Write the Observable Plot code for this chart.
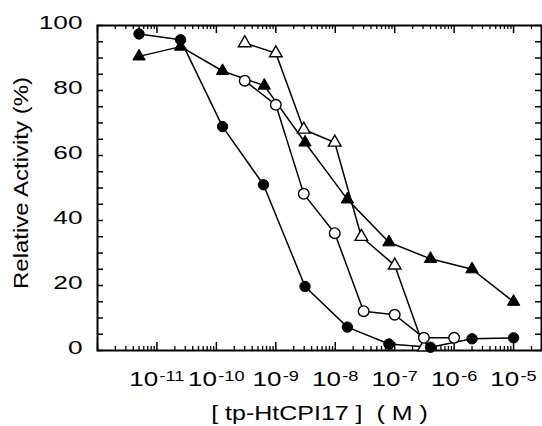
<!DOCTYPE html>
<html>
<head>
<meta charset="utf-8">
<script src="https://cdn.jsdelivr.net/npm/d3@7"></script>
<script src="https://cdn.jsdelivr.net/npm/@observablehq/plot@0.6"></script>
<style>
  html, body { margin: 0; padding: 0; background: #fff; }
</style>
</head>
<body>
<div id="chart"></div>
<script>
// ---- data ----
const fcConc = [5e-12, 2.5e-11, 1.27e-10, 6.2e-10, 3.1e-9, 1.6e-8, 8e-8, 4e-7, 2e-6, 1e-5];
const fcAct  = [97.4, 95.6, 68.9, 51.0, 19.7, 7.2, 2.0, 1.0, 3.6, 3.9];

const ftConc = [5e-12, 2.5e-11, 1.27e-10, 6.4e-10, 3.1e-9, 1.6e-8, 8e-8, 4e-7, 2e-6, 1e-5];
const ftAct  = [90.5, 93.5, 86.0, 81.5, 64.0, 46.5, 33.3, 28.2, 25.0, 15.0];

const ocConc = [3e-10, 1e-9, 2.95e-9, 9.8e-9, 3e-8, 1e-7, 3.1e-7, 1e-6];
const ocAct  = [83.0, 75.6, 48.2, 36.1, 12.1, 11.0, 3.9, 3.9];

const otConc = [3e-10, 1e-9, 2.95e-9, 9.8e-9, 2.75e-8, 1e-7, 3.1e-7];
const otAct  = [94.6, 91.5, 68.0, 64.0, 35.0, 26.2, 1.0];

const xMajor = [-12, -11, -10, -9, -8, -7, -6, -5];
const xLabelExp = [-11, -10, -9, -8, -7, -6, -5];
const yTickLabels = [0, 20, 40, 60, 80, 100];
const yTickAll = d3.range(0, 101, 5);

const xTitle = "[ tp-HtCPI17 ]  ( M )";
const yTitle = "Relative Activity (%)";

// ---- build ----
const series = [
  {key: "fc", conc: fcConc, act: fcAct},
  {key: "ft", conc: ftConc, act: ftAct},
  {key: "oc", conc: ocConc, act: ocAct},
  {key: "ot", conc: otConc, act: otAct}
];
const rows = series.flatMap(s => s.conc.map((c, i) => ({s: s.key, c, a: s.act[i]})));
const pick = k => rows.filter(r => r.s === k);

const W = 542, H = 426, ML = 97, MR = 1, MT = 25, MB = 76;
const FW = W - ML - MR, FH = H - MT - MB;

const majors = xMajor.map(e => Math.pow(10, e));
const minors = xMajor.flatMap(e => d3.range(2, 10).map(m => m * Math.pow(10, e))).filter(v => v < 2.95e-5);

const font = "'Liberation Sans', Arial, Helvetica, sans-serif";

const svg = Plot.plot({
  width: W, height: H,
  marginLeft: ML, marginRight: MR, marginTop: MT, marginBottom: MB,
  style: {fontFamily: font, fontSize: "19px", color: "#000", background: "#fff"},
  x: {type: "log", domain: [1e-12, 2.95e-5]},
  y: {domain: [0, 100]},
  marks: [
    // inward ticks on all four sides
    Plot.tickX(majors, {x: d => d, insetTop: FH - 8, stroke: "#000", strokeWidth: 1.5}),
    Plot.tickX(minors, {x: d => d, insetTop: FH - 4, stroke: "#000", strokeWidth: 1.3}),
    Plot.tickX(majors, {x: d => d, insetBottom: FH - 8, stroke: "#000", strokeWidth: 1.5}),
    Plot.tickX(minors, {x: d => d, insetBottom: FH - 4, stroke: "#000", strokeWidth: 1.3}),
    Plot.tickY(yTickAll, {y: d => d, insetRight: FW - 6, stroke: "#000", strokeWidth: 1.5}),
    Plot.tickY(yTickAll, {y: d => d, insetLeft: FW - 6, stroke: "#000", strokeWidth: 1.5}),
    Plot.frame({stroke: "#000", strokeWidth: 2}),
    // tick labels
    Plot.axisY({ticks: yTickLabels, tickSize: 0, tickPadding: 15, fontSize: 19, dy: -3, label: null, fill: "#000"}),
    Plot.axisX({ticks: xLabelExp.map(e => Math.pow(10, e)), tickSize: 0, tickPadding: 21, fontSize: 20, label: null, fill: "#000",
      tickFormat: d => "10^" + Math.round(Math.log10(d))}),
    // axis titles
    Plot.text([yTitle], {frameAnchor: "left", textAnchor: "middle", rotate: -90, dx: -76, dy: -5, fontSize: 20, fill: "#000", lineAnchor: "middle"}),
    Plot.text([xTitle], {frameAnchor: "bottom", textAnchor: "middle", dy: 63.5, fontSize: 20, fill: "#000", lineAnchor: "middle"}),
    // lines
    Plot.line(rows, {x: "c", y: "a", z: "s", stroke: "#000", strokeWidth: 1.5}),
    // markers
    Plot.dot(pick("ot"), {x: "c", y: "a", symbol: "triangle", r: 4.7, fill: "#fff", stroke: "#000", strokeWidth: 1.4}),
    Plot.dot(pick("oc"), {x: "c", y: "a", symbol: "circle", r: 5.3, fill: "#fff", stroke: "#000", strokeWidth: 1.4}),
    Plot.dot(pick("ft"), {x: "c", y: "a", symbol: "triangle", r: 4.6, fill: "#000", stroke: "#000", strokeWidth: 1}),
    Plot.dot(pick("fc"), {x: "c", y: "a", symbol: "circle", r: 5.2, fill: "#000", stroke: "#000", strokeWidth: 1})
  ]
});

document.getElementById("chart").appendChild(svg);

// superscript exponents on x tick labels
d3.select(svg).selectAll("text").each(function() {
  const t = d3.select(this);
  const s = t.text();
  if (!/^10\^-?\d+$/.test(s)) return;
  const parts = s.split("^");
  t.text(null);
  t.append("tspan").text(parts[0]);
  t.append("tspan").attr("dx", "1").attr("dy", "-5").attr("font-size", "14px").text(parts[1]);
  t.attr("data-kind", "xtick");
});

// the original lettering is horizontally wide: stretch each text about its anchor
d3.select(svg).selectAll("text").each(function() {
  const kind = this.getAttribute("data-kind");
  const s = this.textContent;
  let k;
  if (kind === "xtick") k = 1.3;
  else if (/^\d+$/.test(s)) k = 1.38;
  else if (s === xTitle) k = 1.25;
  else k = 1.2;
  const bb = this.getBBox();
  const anchor = getComputedStyle(this).textAnchor || this.getAttribute("text-anchor") || "start";
  const ax = anchor === "end" ? bb.x + bb.width : anchor === "middle" ? bb.x + bb.width / 2 : bb.x;
  const tr = this.getAttribute("transform") || "";
  this.setAttribute("transform", `${tr} translate(${ax},0) scale(${k},1) translate(${-ax},0)`.trim());
});
</script>
</body>
</html>
